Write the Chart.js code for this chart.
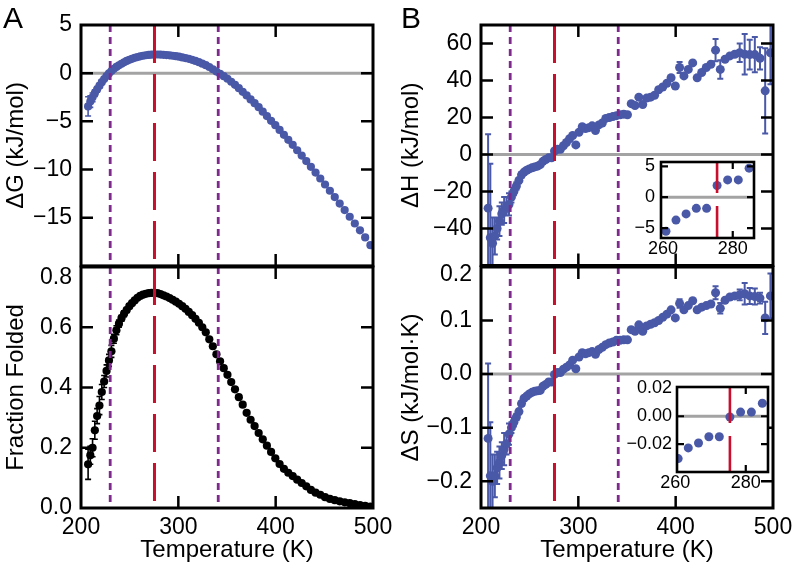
<!DOCTYPE html>
<html>
<head>
<meta charset="utf-8">
<script src="https://cdn.jsdelivr.net/npm/chart.js@4.4.1/dist/chart.umd.min.js"></script>
<style>
html, body { margin:0; padding:0; background:#fff; }
#fig { position:relative; width:796px; height:572px; overflow:hidden; background:#fff; }
#fig canvas { position:absolute; }
.plab { position:absolute; font-family:"Liberation Sans", Arial, sans-serif; font-size:30px; line-height:30px; color:#000; }
</style>
</head>
<body>
<div id="fig">
  <canvas id="cA1" width="400" height="270" style="left:0px;top:0px"></canvas>
  <canvas id="cA2" width="400" height="332" style="left:0px;top:240px"></canvas>
  <canvas id="cB1" width="396" height="270" style="left:400px;top:0px"></canvas>
  <canvas id="cB2" width="396" height="332" style="left:400px;top:240px"></canvas>
  <canvas id="cH" width="160" height="125" style="left:600px;top:140px"></canvas>
  <canvas id="cS" width="165" height="130" style="left:610px;top:370px"></canvas>
  <div class="plab" style="left:3px;top:3px">A</div>
  <div class="plab" style="left:401px;top:3px">B</div>
</div>
<script>
// ---------------- data ----------------
const temps = [
  207.30, 209.58, 211.88, 214.21, 216.57, 218.95, 221.36, 223.79, 226.26, 228.74,
  231.26, 233.80, 236.38, 238.98, 241.61, 244.26, 246.95, 249.67, 252.41, 255.19,
  258.00, 260.83, 263.70, 266.60, 269.54, 272.50, 275.50, 278.53, 281.59, 284.69,
  287.82, 290.99, 294.19, 297.43, 300.70, 304.01, 307.35, 310.73, 314.15, 317.61,
  321.10, 324.63, 328.20, 331.81, 335.46, 339.15, 342.88, 346.66, 350.47, 354.33,
  358.22, 362.16, 366.15, 370.18, 374.25, 378.36, 382.53, 386.73, 390.99, 395.29,
  399.64, 404.03, 408.48, 412.97, 417.51, 422.11, 426.75, 431.44, 436.19, 440.99,
  445.84, 450.74, 455.70, 460.71, 465.78, 470.90, 476.08, 481.32, 486.62, 491.97,
  497.38
];
const deltaG = [
  -3.45, -2.95, -2.5, -2.07, -1.68, -1.31, -0.93, -0.61, -0.3, -0.03,
  0.22, 0.45, 0.65, 0.82, 0.98, 1.13, 1.27, 1.39, 1.49, 1.59,
  1.67, 1.75, 1.81, 1.86, 1.89, 1.92, 1.94, 1.94, 1.93, 1.91,
  1.88, 1.85, 1.81, 1.76, 1.71, 1.64, 1.57, 1.49, 1.39, 1.27,
  1.14, 0.99, 0.83, 0.64, 0.41, 0.17, -0.07, -0.31, -0.58, -0.89,
  -1.21, -1.56, -1.93, -2.31, -2.72, -3.11, -3.53, -4.0, -4.45, -4.94,
  -5.4, -5.89, -6.4, -6.92, -7.44, -8.0, -8.55, -9.12, -9.72, -10.31,
  -10.93, -11.55, -12.2, -12.86, -13.53, -14.21, -14.9, -15.6, -16.31, -17.05,
  -17.85
];
const deltaGErr = [
  1.0, 0.6, 0.45, 0.35, 0.3, 0.25, 0.2, 0.15, 0.1, 0.1,
  0, 0, 0, 0, 0, 0, 0, 0, 0, 0,
  0, 0, 0, 0, 0, 0, 0, 0, 0, 0,
  0, 0, 0, 0, 0, 0, 0, 0, 0, 0,
  0, 0, 0, 0, 0, 0, 0, 0, 0, 0,
  0, 0, 0, 0, 0, 0, 0, 0, 0, 0,
  0, 0, 0, 0, 0, 0, 0, 0, 0, 0,
  0, 0, 0, 0, 0, 0, 0, 0, 0, 0,
  0
];
const fracFolded = [
  0.145, 0.175, 0.2, 0.258, 0.305, 0.34, 0.385, 0.42, 0.455, 0.49,
  0.52, 0.562, 0.59, 0.612, 0.63, 0.645, 0.657, 0.67, 0.68, 0.689,
  0.698, 0.704, 0.708, 0.711, 0.713, 0.714, 0.714, 0.713, 0.71, 0.706,
  0.702, 0.697, 0.691, 0.685, 0.678, 0.67, 0.661, 0.651, 0.64, 0.628,
  0.615, 0.6, 0.583, 0.56, 0.537, 0.51, 0.487, 0.464, 0.442, 0.418,
  0.394, 0.368, 0.343, 0.316, 0.293, 0.272, 0.249, 0.228, 0.207, 0.186,
  0.165, 0.146, 0.13, 0.117, 0.106, 0.094, 0.083, 0.072, 0.06, 0.051,
  0.044, 0.036, 0.03, 0.026, 0.022, 0.019, 0.016, 0.013, 0.01, 0.007,
  0.005
];
const fracErr = [
  0.05, 0.03, 0.03, 0.03, 0.025, 0.03, 0.025, 0.02, 0.02, 0.02,
  0.02, 0.015, 0.015, 0.012, 0.01, 0.01, 0.008, 0.008, 0.006, 0.006,
  0, 0, 0, 0, 0, 0, 0, 0, 0, 0,
  0, 0, 0, 0, 0, 0, 0, 0, 0, 0,
  0, 0, 0, 0, 0, 0, 0, 0, 0, 0,
  0, 0, 0, 0, 0, 0, 0, 0, 0, 0,
  0, 0, 0, 0, 0, 0, 0, 0, 0, 0,
  0, 0, 0, 0, 0, 0, 0, 0, 0, 0,
  0
];
const deltaH = [
  -29, -45, -48, -44, -40, -36, -32, -30, -28, -27,
  -23, -20, -17, -14, -11, -9.5, -8.5, -7.8, -7.2, -6.7,
  -6.3, -5.5, -3.7, -2.7, -1.8, -1.8, 1.9, 2.8, 2.8, 4.7,
  6.5, 8.5, 10.3, 5.2, 12, 15, 14, 14.5, 15.5, 13,
  16, 17, 19.5, 20, 20.5, 21, 21.5, 21.8, 21.5, 27.5,
  26.5, 31, 27, 30.5, 31, 32, 35, 36.5, 38.5, 41.5,
  37, 47, 42.5, 46, 49.5, 41.5, 44.3, 47, 48.8, 56.4,
  46, 51.5, 53.3, 54.2, 55, 54.2, 54, 54, 52, 34.4,
  55
];
const deltaHErr = [
  40, 40, 14, 10, 6, 8, 6, 7, 5, 6,
  3, 2, 2, 1.5, 1.5, 0, 0, 0, 0, 0,
  0, 0, 0, 0, 0, 0, 0, 0, 0, 0,
  0, 0, 0, 0, 0, 0, 0, 0, 0, 0,
  0, 0, 0, 0, 0, 0, 0, 0, 0, 0,
  0, 0, 0, 0, 0, 0, 0, 0, 0, 0,
  0, 3, 0, 0, 0, 0, 0, 0, 0, 6,
  5, 0, 0, 0, 5, 11, 8, 9.5, 6, 23,
  17
];
const deltaS = [
  -0.12, -0.19, -0.2, -0.19, -0.175, -0.165, -0.152, -0.14, -0.13, -0.112,
  -0.1, -0.09, -0.08, -0.07, -0.055, -0.045, -0.041, -0.037, -0.034, -0.032,
  -0.031, -0.0304, -0.0227, -0.0192, -0.0147, -0.0147, -0.0005, 0.003, 0.003, 0.0093,
  0.013, 0.017, 0.026, 0.01, 0.032, 0.04, 0.038, 0.04, 0.042, 0.037,
  0.046, 0.05, 0.055, 0.058, 0.06, 0.063, 0.063, 0.064, 0.064, 0.083,
  0.08, 0.092, 0.08, 0.09, 0.093, 0.096, 0.1, 0.106, 0.112, 0.12,
  0.105, 0.132, 0.12, 0.128, 0.137, 0.12, 0.125, 0.128, 0.131, 0.152,
  0.123, 0.138, 0.144, 0.146, 0.148, 0.15, 0.146, 0.145, 0.142, 0.105,
  0.146
];
const deltaSErr = [
  0.14, 0.1, 0.05, 0.04, 0.03, 0.03, 0.025, 0.03, 0.02, 0.02,
  0.01, 0.008, 0.006, 0.005, 0.004, 0, 0, 0, 0, 0,
  0, 0, 0, 0, 0, 0, 0, 0, 0, 0,
  0, 0, 0, 0, 0, 0, 0, 0, 0, 0,
  0, 0, 0, 0, 0, 0, 0, 0, 0, 0,
  0, 0, 0, 0, 0, 0, 0, 0, 0, 0,
  0, 0.008, 0, 0, 0, 0, 0, 0, 0, 0.012,
  0.01, 0, 0, 0, 0.01, 0.02, 0.015, 0.015, 0.01, 0.03,
  0.042
];
// reference temperatures (K)
const coldT = 230;
const hotT = 341;
const midT = 275.5;
// tick values
const tempTicks = [200, 300, 400, 500];
const gTicks = [-15, -10, -5, 0, 5];
const fTicks = [0, 0.2, 0.4, 0.6];
const fTopTick = [0.8];
const hTicks = [-40, -20, 0, 20, 40, 60];
const sTicks = [-0.2, -0.1, 0, 0.1];
const sTopTick = [0.2];
const insetTempTicks = [260, 280];
const insetHTicks = [-5, 0, 5];
const insetSTicks = [-0.02, 0, 0.02];

// ---------------- style ----------------
const FONT = '"Liberation Sans", Arial, Helvetica, sans-serif';
const BLUE = '#4a58a8';
const BLACK = '#000000';
const RED = '#c8102e';
const PURPLE = '#7d2a8c';
const GRAY = '#a3a3a3';

const MAINV = [
  { x: coldT, color: PURPLE, dash: [7, 5], w: 2.8, off: 0 },
  { x: hotT, color: PURPLE, dash: [7, 5], w: 2.8, off: 0 },
  { x: midT, color: RED, dash: [38, 11], w: 3, off: 0 }
];
const CONF = {
  cA1: { zero: true, vlines: MAINV, tickLen: 12, tickW: 2.5, frameW: 3, cap: 3, errW: 1.6 },
  cA2: { zero: false, vlines: MAINV, tickLen: 12, tickW: 2.5, frameW: 3, cap: 3, errW: 1.6 },
  cB1: { zero: true, vlines: MAINV, tickLen: 12, tickW: 2.5, frameW: 3, cap: 3, errW: 2 },
  cB2: { zero: true, vlines: MAINV, tickLen: 12, tickW: 2.5, frameW: 3, cap: 3, errW: 2 },
  cH: { bg: '#ffffff', zero: true, vlines: [{ x: midT, color: RED, dash: [31, 13], w: 2.6, off: 0 }], tickLen: 7, tickW: 2.2, frameW: 2.6, cap: 3, errW: 2 },
  cS: { bg: '#ffffff', zero: true, vlines: [{ x: midT, color: RED, dash: [36, 13], w: 2.6, off: 0 }], tickLen: 7, tickW: 2.2, frameW: 2.6, cap: 3, errW: 2 }
};

const deco = {
  id: 'deco',
  afterLayout(chart) {
    const s = chart.scales.ytop;
    if (s) { s.left = 0; s.right = chart.chartArea.left; s.width = chart.chartArea.left; }
  },
  beforeDraw(chart) {
    const C = CONF[chart.canvas.id]; if (!C.bg) return;
    const a = chart.chartArea, c = chart.ctx;
    c.save(); c.fillStyle = C.bg; c.fillRect(a.left, a.top, a.right - a.left, a.bottom - a.top); c.restore();
  },
  beforeDatasetsDraw(chart) {
    const C = CONF[chart.canvas.id];
    const a = chart.chartArea, c = chart.ctx, xs = chart.scales.x, ys = chart.scales.y;
    c.save();
    c.beginPath(); c.rect(a.left, a.top, a.right - a.left, a.bottom - a.top); c.clip();
    if (C.zero) {
      const py = ys.getPixelForValue(0);
      c.strokeStyle = GRAY; c.lineWidth = 3;
      c.beginPath(); c.moveTo(a.left, py); c.lineTo(a.right, py); c.stroke();
    }
    chart.data.datasets.forEach(ds => {
      if (!ds.errs) return;
      c.strokeStyle = ds.backgroundColor; c.lineWidth = C.errW;
      c.beginPath();
      ds.data.forEach((p, i) => {
        const e = ds.errs[i]; if (!e) return;
        const px = xs.getPixelForValue(p.x);
        const y1 = ys.getPixelForValue(p.y - e), y2 = ys.getPixelForValue(p.y + e);
        c.moveTo(px, y1); c.lineTo(px, y2);
        c.moveTo(px - C.cap, y1); c.lineTo(px + C.cap, y1);
        c.moveTo(px - C.cap, y2); c.lineTo(px + C.cap, y2);
      });
      c.stroke();
    });
    c.restore();
  },
  afterDatasetsDraw(chart) {
    const C = CONF[chart.canvas.id];
    const a = chart.chartArea, c = chart.ctx, xs = chart.scales.x;
    c.save();
    c.beginPath(); c.rect(a.left, a.top, a.right - a.left, a.bottom - a.top); c.clip();
    C.vlines.forEach(v => {
      const px = xs.getPixelForValue(v.x);
      c.strokeStyle = v.color; c.lineWidth = v.w; c.setLineDash(v.dash); c.lineDashOffset = v.off;
      c.beginPath(); c.moveTo(px, a.top); c.lineTo(px, a.bottom); c.stroke();
    });
    c.restore();
  },
  afterDraw(chart) {
    const C = CONF[chart.canvas.id];
    const a = chart.chartArea, c = chart.ctx, xs = chart.scales.x, ys = chart.scales.y;
    const L = C.tickLen;
    c.save();
    c.strokeStyle = BLACK; c.lineWidth = C.tickW; c.lineCap = 'butt';
    c.beginPath();
    xs.ticks.forEach(t => {
      const px = xs.getPixelForValue(t.value);
      if (px < a.left + 4 || px > a.right - 4) return;
      c.moveTo(px, a.top); c.lineTo(px, a.top + L);
      c.moveTo(px, a.bottom); c.lineTo(px, a.bottom - L);
    });
    ys.ticks.forEach(t => {
      const py = ys.getPixelForValue(t.value);
      if (py < a.top + 4 || py > a.bottom - 4) return;
      c.moveTo(a.left, py); c.lineTo(a.left + L, py);
      c.moveTo(a.right, py); c.lineTo(a.right - L, py);
    });
    c.stroke();
    c.lineWidth = C.frameW;
    c.strokeRect(a.left, a.top, a.right - a.left, a.bottom - a.top);
    c.restore();
  }
};

function fmt(v, d) {
  const s = Math.abs(v).toFixed(d);
  return (v < -1e-9 ? '\u2212' : '') + s;
}
function pts(xs, ys) { return xs.map((x, i) => ({ x: x, y: ys[i] })); }

function build(id, o) {
  const scales = {
    x: {
      type: 'linear', min: o.xr[0], max: o.xr[1],
      afterBuildTicks: s => { s.ticks = o.xt.map(v => ({ value: v })); },
      afterFit: s => { s.height = o.xh; s.paddingLeft = 0; s.paddingRight = 0; },
      grid: { display: false, drawTicks: false }, border: { display: false },
      ticks: { display: o.xlab, autoSkip: false, maxRotation: 0, minRotation: 0, padding: o.xpad, color: BLACK,
               font: { family: FONT, size: o.fs }, callback: v => fmt(v, 0) },
      title: o.xtitle ? { display: true, text: o.xtitle, color: BLACK, font: { family: FONT, size: 24 }, padding: { top: 0, bottom: 7 } } : { display: false }
    },
    y: {
      type: 'linear', position: 'left', weight: 1, min: o.yr[0], max: o.yr[1],
      afterBuildTicks: s => { s.ticks = o.yt.map(v => ({ value: v })); },
      afterFit: s => { s.width = o.yw; s.paddingTop = 0; s.paddingBottom = 0; },
      grid: { display: false, drawTicks: false }, border: { display: false },
      ticks: { autoSkip: false, padding: o.ypad, color: BLACK, font: { family: FONT, size: o.fs }, callback: v => fmt(v, o.yd) },
      title: o.ytitle ? { display: true, text: o.ytitle, color: BLACK, font: { family: FONT, size: 24 }, padding: { top: o.ytp, bottom: 0 } } : { display: false }
    }
  };
  if (o.ytop) {
    scales.ytop = {
      type: 'linear', position: 'left', weight: 0, min: o.yr[0], max: o.yr[1],
      afterBuildTicks: s => { s.ticks = o.ytop.map(v => ({ value: v })); },
      afterFit: s => { s.width = 0; s.paddingTop = 0; s.paddingBottom = 0; },
      grid: { display: false, drawTicks: false }, border: { display: false },
      ticks: { autoSkip: false, padding: o.ypad, labelOffset: o.ytopOff, color: BLACK, font: { family: FONT, size: o.fs }, callback: v => fmt(v, o.yd) },
      title: { display: false }
    };
  }
  return new Chart(document.getElementById(id), {
    type: 'scatter',
    data: { datasets: o.datasets },
    options: {
      responsive: false, animation: false, events: [],
      layout: { padding: { left: 0, top: o.pad[0], right: o.pad[1], bottom: o.pad[2] } },
      plugins: { legend: { display: false }, tooltip: { enabled: false } },
      scales: scales
    },
    plugins: [deco]
  });
}

function ds(ys, errs, color, r, clip) {
  const d = { data: pts(temps, ys), errs: errs, backgroundColor: color, borderColor: color,
              pointRadius: r, pointBorderWidth: 0, pointHoverRadius: r, showLine: false,
              xAxisID: 'x', yAxisID: 'y' };
  if (clip !== undefined) d.clip = clip;
  return d;
}

build('cA1', {
  datasets: [ds(deltaG, deltaGErr, BLUE, 4.1)],
  xr: [200, 500], yr: [-20, 5], xt: tempTicks, yt: gTicks,
  pad: [25, 27, 3], yw: 81, xh: 0, fs: 23, ypad: 9, xpad: 6, yd: 0, xlab: false,
  ytitle: '\u0394G (kJ/mol)', ytp: 1.5
});
build('cA2', {
  datasets: [ds(fracFolded, fracErr, BLACK, 4.1)],
  xr: [200, 500], yr: [0, 0.8], xt: tempTicks, yt: fTicks, ytop: fTopTick, ytopOff: 11,
  pad: [27, 27, 0], yw: 81, xh: 64, fs: 23, ypad: 9, xpad: 6, yd: 1, xlab: true,
  xtitle: 'Temperature (K)', ytitle: 'Fraction Folded', ytp: 1.5
});
build('cB1', {
  datasets: [ds(deltaH, deltaHErr, BLUE, 4.5)],
  xr: [200, 500], yr: [-60, 70], xt: tempTicks, yt: hTicks,
  pad: [25, 23, 3], yw: 81, xh: 0, fs: 23, ypad: 9, xpad: 6, yd: 0, xlab: false,
  ytitle: '\u0394H (kJ/mol)', ytp: -3
});
build('cB2', {
  datasets: [ds(deltaS, deltaSErr, BLUE, 4.5)],
  xr: [200, 500], yr: [-0.25, 0.2], xt: tempTicks, yt: sTicks, ytop: sTopTick, ytopOff: 8,
  pad: [27, 23, 0], yw: 81, xh: 64, fs: 23, ypad: 9, xpad: 6, yd: 1, xlab: true,
  xtitle: 'Temperature (K)', ytitle: '\u0394S (kJ/mol\u00b7K)', ytp: -3
});
build('cH', {
  datasets: [ds(deltaH, null, BLUE, 4.5, 0)],
  xr: [259.4, 286.1], yr: [-6.6, 5.7], xt: insetTempTicks, yt: insetHTicks,
  pad: [22, 6, 0], yw: 61, xh: 27, fs: 18, ypad: 6, xpad: 0, yd: 0, xlab: true
});
build('cS', {
  datasets: [ds(deltaS, null, BLUE, 4.5, 0)],
  xr: [260.5, 286.3], yr: [-0.04, 0.021], xt: insetTempTicks, yt: insetSTicks,
  pad: [17, 7, 0], yw: 67, xh: 28, fs: 18, ypad: 5, xpad: 0, yd: 2, xlab: true
});
</script>
</body>
</html>
